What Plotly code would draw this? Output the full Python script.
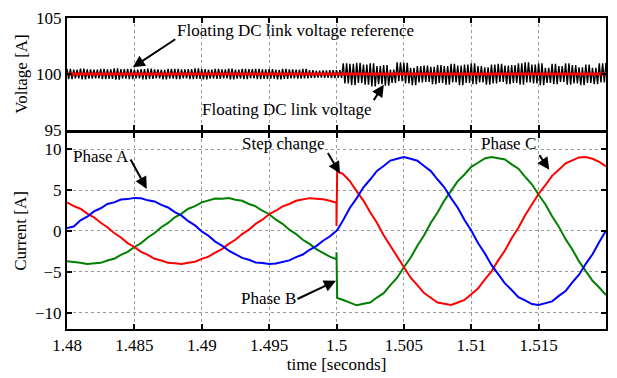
import numpy as np
import plotly.graph_objects as go

# ---------------- data ----------------
# time grid for currents: pre-step 1.48..1.5, post-step 1.5..1.52
t_pre = [round(1.48 + 0.0005 * k, 5) for k in range(41)]
t_post = [1.5, 1.50005] + [round(1.5 + 0.0005 * m, 5) for m in range(1, 41)]

phase_a_pre = [0.35, 0.55, 1.30, 1.75, 2.40, 2.78, 3.30, 3.50, 3.85, 3.90, 4.05, 4.00, 3.75, 3.62, 3.20,
               2.88, 2.30, 1.88, 1.20, 0.68, -0.05, -0.58, -1.30, -1.78, -2.40, -2.80, -3.30, -3.52,
               -3.85, -3.92, -4.05, -3.98, -3.75, -3.60, -3.20, -2.88, -2.30, -1.85, -1.20, -0.68, 0.02]
phase_b_pre = [3.50, 3.05, 2.72, 2.12, 1.68, 1.00, 0.46, -0.25, -0.80, -1.48, -1.96, -2.56, -2.93, -3.40,
               -3.62, -3.90, -3.95, -4.03, -3.88, -3.76, -3.42, -3.15, -2.64, -2.22, -1.58, -1.08, -0.38,
               0.16, 0.87, 1.38, 2.05, 2.48, 3.02, 3.30, 3.70, 3.82, 4.02, 3.95, 3.88, 3.70, 3.46]
phase_c_pre = [-3.70, -3.78, -3.88, -4.05, -3.94, -3.90, -3.62, -3.40, -2.92, -2.56, -1.96, -1.48, -0.80,
               -0.25, 0.46, 0.98, 1.68, 2.12, 2.72, 3.05, 3.50, 3.70, 3.96, 3.95, 4.03, 3.82, 3.70, 3.30,
               3.02, 2.48, 2.05, 1.38, 0.87, 0.16, -0.38, -1.08, -1.58, -2.22, -2.64, -3.15, -3.46]

phase_a_post = [0.02, 0.10, 1.35, 2.85, 4.02, 5.35, 6.30, 7.35, 7.95, 8.62, 8.85, 9.05, 8.84, 8.60, 7.95,
                7.33, 6.30, 5.35, 4.02, 2.85, 1.35, 0.05, -1.48, -2.72, -4.15, -5.22, -6.42, -7.22, -8.10,
                -8.50, -8.95, -9.05, -8.82, -8.62, -7.95, -7.35, -6.30, -5.35, -4.02, -2.85, -1.35, 0.05]
phase_b_post = [0.60, 7.30, 6.95, 6.08, 4.85, 3.72, 2.28, 1.00, -0.52, -1.82, -3.28, -4.45, -5.72, -6.63,
                -7.60, -8.17, -8.75, -8.90, -9.05, -8.75, -8.45, -7.74, -7.05, -5.96, -4.96, -3.60, -2.40,
                -0.88, 0.40, 1.93, 3.18, 4.56, 5.60, 6.75, 7.50, 8.28, 8.64, 9.00, 9.05, 8.84, 8.45, 7.90]
phase_c_post = [-2.60, -8.20, -8.45, -8.75, -9.10, -8.90, -8.75, -8.15, -7.62, -6.62, -5.72, -4.44, -3.28,
                -1.80, -0.53, 1.00, 2.26, 3.72, 4.84, 6.10, 6.92, 7.85, 8.35, 8.88, 9.05, 8.90, 8.75, 8.15,
                7.62, 6.62, 5.72, 4.44, 3.28, 1.80, 0.53, -1.00, -2.26, -3.72, -4.84, -6.10, -6.92, -7.85]

# floating DC link voltage: upper / lower excursions every 0.5 ms
t_volt = [round(1.48 + 0.0005 * k, 5) for k in range(81)]
volt_upper = [100.45, 100.40, 100.48, 100.42, 100.38, 100.46, 100.41, 100.50, 100.43, 100.47, 100.40, 100.44,
              100.49, 100.42, 100.38, 100.45, 100.47, 100.41, 100.44, 100.50, 100.43, 100.39, 100.46, 100.42,
              100.48, 100.40, 100.45, 100.43, 100.47, 100.41, 100.44, 100.38, 100.46, 100.42, 100.40, 100.45,
              100.35, 100.30, 100.32, 100.35,
              100.35, 100.95, 100.90, 101.00, 100.85, 100.95, 100.70, 100.80, 100.40, 101.05, 101.00, 100.55,
              100.70, 100.75, 100.65, 100.80, 100.70, 100.90, 100.75, 100.85, 100.95, 100.70, 100.60, 100.85,
              100.90, 100.75, 100.80, 100.95, 101.05, 100.85, 100.95, 100.55, 100.90, 100.70, 100.95, 100.80,
              100.60, 100.85, 100.55, 100.95, 101.00]
volt_lower = [99.55, 99.60, 99.52, 99.58, 99.62, 99.54, 99.57, 99.50, 99.59, 99.55, 99.61, 99.53, 99.56, 99.60,
              99.52, 99.58, 99.55, 99.62, 99.54, 99.57, 99.51, 99.59, 99.56, 99.60, 99.53, 99.58, 99.55, 99.61,
              99.54, 99.57, 99.59, 99.52, 99.56, 99.60, 99.58, 99.62, 99.65, 99.68, 99.66, 99.64,
              99.65, 99.15, 99.00, 99.20, 99.05, 98.90, 99.10, 98.95, 99.20, 99.35, 99.15, 99.00, 99.25, 99.30,
              99.10, 99.20, 99.05, 99.25, 99.00, 99.20, 99.10, 99.25, 99.05, 99.15, 99.30, 99.10, 99.20, 99.05,
              99.25, 99.15, 99.00, 99.20, 99.10, 99.30, 99.05, 99.15, 99.00, 99.20, 99.10, 99.25, 99.30]
volt_ref = [100.0, 100.0]
t_ref = [1.48, 1.52]

x_ticks = [1.48, 1.485, 1.49, 1.495, 1.5, 1.505, 1.51, 1.515]
x_ticklabels = ["1.48", "1.485", "1.49", "1.495", "1.5", "1.505", "1.51", "1.515"]
v_ticks = [95, 100, 105]
i_ticks = [-10, -5, 0, 5, 10]

# ---------------- figure ----------------
FONT = "Liberation Serif"
FS = 17
fig = go.Figure()

# dense zig-zag voltage trace between the upper/lower excursions
xv, yv = [], []
for t, hi, lo in zip(t_volt, volt_upper, volt_lower):
    for j in range(4):
        xv.append(t + 0.000125 * j)
        yv.append(hi if j % 2 == 0 else lo)
fig.add_trace(go.Scatter(x=xv, y=yv, xaxis="x", yaxis="y", mode="lines",
                         line=dict(color="black", width=1.4), showlegend=False, hoverinfo="skip"))
fig.add_trace(go.Scatter(x=t_ref, y=volt_ref, xaxis="x", yaxis="y", mode="lines",
                         line=dict(color="#ff0000", width=3), showlegend=False))

t_all = t_pre + t_post
fig.add_trace(go.Scatter(x=t_all, y=phase_c_pre + phase_c_post, xaxis="x2", yaxis="y2", mode="lines",
                         line=dict(color="#008000", width=2), showlegend=False))
fig.add_trace(go.Scatter(x=t_all, y=phase_b_pre + phase_b_post, xaxis="x2", yaxis="y2", mode="lines",
                         line=dict(color="#ff0000", width=2), showlegend=False))
fig.add_trace(go.Scatter(x=t_all, y=phase_a_pre + phase_a_post, xaxis="x2", yaxis="y2", mode="lines",
                         line=dict(color="#0000ff", width=2), showlegend=False))

tickfont = dict(family=FONT, size=FS, color="black")
titlefont = dict(family=FONT, size=FS, color="black")


def axis(**kw):
    d = dict(showline=True, linecolor="black", linewidth=2, mirror="ticks",
             ticks="inside", ticklen=5, tickwidth=1.5, tickcolor="black",
             showgrid=True, gridcolor="#9a9a9a", gridwidth=1, griddash="dot",
             zeroline=False, tickfont=tickfont)
    d.update(kw)
    return d


fig.update_layout(
    xaxis=axis(domain=[0, 1], anchor="y", range=[1.48, 1.52], tickvals=x_ticks, ticktext=x_ticklabels,
               showticklabels=False),
    yaxis=axis(domain=[0.6398, 1.0], anchor="x", range=[95, 105], tickvals=v_ticks,
               title=dict(text="Voltage [A]", font=titlefont, standoff=4)),
    xaxis2=axis(domain=[0, 1], anchor="y2", range=[1.48, 1.52], tickvals=x_ticks, ticktext=x_ticklabels,
                title=dict(text="time [seconds]", font=titlefont, standoff=2)),
    yaxis2=axis(domain=[0.0, 0.6304], anchor="x2", range=[-12, 12], tickvals=i_ticks,
                title=dict(text="Current [A]", font=titlefont, standoff=4)),
)

afont = dict(family=FONT, size=FS, color="black")
texts = [
    ("Floating DC link voltage reference", 1.49693, 103.88, "x", "y"),
    ("Floating DC link voltage", 1.4963, 96.81, "x", "y"),
    ("Phase A", 1.48251, 9.16, "x2", "y2"),
    ("Step change", 1.49604, 10.70, "x2", "y2"),
    ("Phase C", 1.51275, 10.70, "x2", "y2"),
    ("Phase B", 1.49494, -8.22, "x2", "y2"),
]
for txt, x, y, xr, yr in texts:
    fig.add_annotation(text=txt, x=x, y=y, xref=xr, yref=yr, showarrow=False, font=afont,
                       xanchor="center", yanchor="middle")

arrows = [
    (1.48488, 100.60, 44, -29, "x", "y"),
    (1.50351, 99.05, -11, 17, "x", "y"),
    (1.48592, 5.14, -17, -31, "x2", "y2"),
    (1.50026, 7.03, -13, -22, "x2", "y2"),
    (1.51579, 7.51, -11, -16, "x2", "y2"),
    (1.49996, -6.09, -40, 19, "x2", "y2"),
]
for x, y, ax, ay, xr, yr in arrows:
    fig.add_annotation(text="", x=x, y=y, xref=xr, yref=yr, ax=ax, ay=ay, showarrow=True,
                       arrowhead=2, arrowsize=1.2, arrowwidth=2, arrowcolor="black")

fig.update_layout(
    width=617, height=378,
    margin=dict(l=67, r=9, t=11, b=45),
    paper_bgcolor="white", plot_bgcolor="white",
    font=dict(family=FONT, size=FS, color="black"),
    showlegend=False,
)

fig.write_html("out.html")
